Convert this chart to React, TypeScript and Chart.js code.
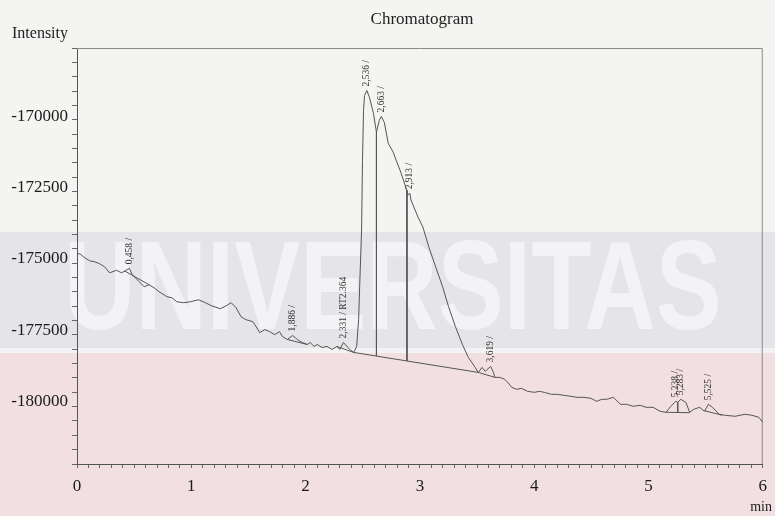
import React, { useEffect, useRef } from "react";
import { Chart, registerables } from "chart.js";

Chart.register(...registerables);

// Detector trace: retention time (min) and intensity
const traceTimes = [
  0, 0.026, 0.069, 0.112, 0.156, 0.199, 0.242, 0.285, 0.346, 0.389,
  0.424, 0.458, 0.484, 0.545, 0.588, 0.631, 0.674, 0.718, 0.761, 0.787,
  0.83, 0.873, 0.934, 0.994, 1.063, 1.124, 1.176, 1.254, 1.306, 1.349,
  1.392, 1.435, 1.478, 1.539, 1.556, 1.599, 1.643, 1.686, 1.729, 1.772,
  1.798, 1.841, 1.886, 1.928, 1.971, 2.015, 2.04, 2.075, 2.101, 2.144,
  2.187, 2.231, 2.274, 2.3, 2.331, 2.386, 2.421, 2.447, 2.464, 2.473,
  2.49, 2.498, 2.507, 2.516, 2.536, 2.559, 2.594, 2.62, 2.645, 2.663,
  2.689, 2.723, 2.767, 2.793, 2.836, 2.879, 2.896, 2.913, 2.922, 2.983,
  3.026, 3.078, 3.138, 3.199, 3.251, 3.311, 3.372, 3.424, 3.484, 3.51,
  3.545, 3.571, 3.619, 3.64, 3.657, 3.7, 3.743, 3.769, 3.804, 3.847,
  3.89, 3.942, 4.003, 4.046, 4.089, 4.15, 4.202, 4.262, 4.323, 4.375,
  4.435, 4.496, 4.547, 4.591, 4.634, 4.694, 4.755, 4.807, 4.867, 4.928,
  4.98, 5.04, 5.101, 5.153, 5.196, 5.238, 5.256, 5.283, 5.327, 5.361,
  5.396, 5.447, 5.49, 5.525, 5.56, 5.619, 5.671, 5.758, 5.844, 5.905,
  5.965, 6.0,
];
const traceValues = [
  -174825, -174825, -174965, -175070, -175105, -175175, -175280, -175490, -175400, -175490,
  -175420, -175330, -175560, -175805, -175980, -175910, -176015, -176155, -176260, -176330,
  -176365, -176505, -176540, -176505, -176435, -176540, -176645, -176750, -176645, -176540,
  -176715, -177030, -177135, -177205, -177310, -177590, -177485, -177555, -177660, -177555,
  -177730, -177830, -177690, -177830, -177935, -178005, -177935, -178075, -178005, -178110,
  -178075, -178180, -178075, -178180, -177935, -178180, -178285, -178075, -177135, -175980,
  -173985, -171540, -169790, -169265, -169090, -169335, -169895, -170560, -170140, -170000,
  -170210, -170945, -171260, -171540, -171995, -172515, -172760, -172700, -172935, -173530,
  -173880, -174580, -175280, -175980, -176680, -177380, -178005, -178460, -178810, -178985,
  -178810, -178950, -178775, -178950, -179160, -179160, -179230, -179335, -179510, -179580,
  -179545, -179650, -179685, -179650, -179685, -179755, -179755, -179790, -179825, -179860,
  -179860, -179895, -180000, -179930, -179930, -179860, -180105, -180105, -180175, -180140,
  -180210, -180210, -180350, -180385, -180175, -180000, -180035, -179930, -180035, -180385,
  -180280, -180210, -180350, -180105, -180210, -180455, -180490, -180525, -180455, -180490,
  -180560, -180735,
];

// Integrated peaks and their retention-time annotations
const peakTimes = [0.458, 1.886, 2.331, 2.536, 2.663, 2.913, 3.619, 5.238, 5.283, 5.525];
const peakLabels = [
  "0,458 /", "1,886 /", "2,331 / RT2.364", "2,536 /", "2,663 /",
  "2,913 /", "3,619 /", "5,238 /", "5,283 /", "5,525 /",
];

// Integration baselines (start/end of each segment)
const baseStartTimes = [0.415, 1.841, 2.274, 2.421, 3.51, 5.153, 5.49];
const baseStartValues = [-175420, -177830, -178075, -178285, -178985, -180385, -180330];
const baseEndTimes = [0.631, 2.015, 2.421, 3.51, 3.657, 5.361, 5.645];
const baseEndValues = [-175910, -178005, -178285, -178985, -179160, -180400, -180490];

// Perpendicular drops separating co-eluting peaks
const dropTimes = [2.62, 2.887, 5.256];
const dropTopValues = [-170560, -172590, -180035];
const dropBottomValues = [-178413, -178585, -180390];

// Axis settings
const xTickLabels = ["0", "1", "2", "3", "4", "5", "6"];
const yTickLabels = ["-170000", "-172500", "-175000", "-177500", "-180000"];
const xMin = 0;
const xMax = 6;
const xMinorStep = 0.1;
const yMin = -182200;
const yMax = -167600;
const yMinorStep = 500;

const SERIF = "'Liberation Serif', 'Times New Roman', serif";
const LINE = "#555";

function valueAt(t: number): number {
  let best = 0;
  for (let i = 1; i < traceTimes.length; i++) {
    if (Math.abs(traceTimes[i] - t) < Math.abs(traceTimes[best] - t)) best = i;
  }
  return traceValues[best];
}

const framePlugin = {
  id: "frame",
  beforeDatasetsDraw(chart: any) {
    const { ctx, chartArea } = chart;
    ctx.save();
    ctx.strokeStyle = "#8a8a8a";
    ctx.lineWidth = 1;
    ctx.beginPath();
    ctx.moveTo(chartArea.left, chartArea.top + 0.5);
    ctx.lineTo(chartArea.right - 0.5, chartArea.top + 0.5);
    ctx.lineTo(chartArea.right - 0.5, chartArea.bottom);
    ctx.stroke();
    ctx.restore();
  },
};

// Intensity labels placed through the y scale
const yLabelPlugin = {
  id: "yLabels",
  afterDraw(chart: any) {
    const { ctx, scales } = chart;
    const y = scales.y;
    ctx.save();
    ctx.fillStyle = "#1a1a1a";
    ctx.font = `17px ${SERIF}`;
    ctx.textAlign = "right";
    ctx.textBaseline = "middle";
    yTickLabels.forEach((label) => {
      const py = y.getPixelForValue(Number(label));
      ctx.fillText(label, y.right - 9, py);
    });
    ctx.restore();
  },
};

const textPlugin = {
  id: "texts",
  afterDraw(chart: any) {
    const { ctx } = chart;
    ctx.save();
    ctx.fillStyle = "#222";
    ctx.textBaseline = "alphabetic";
    ctx.font = `17px ${SERIF}`;
    ctx.textAlign = "center";
    ctx.fillText("Chromatogram", 422, 24);
    ctx.textAlign = "left";
    ctx.font = `16px ${SERIF}`;
    ctx.fillText("Intensity", 12, 38);
    ctx.textAlign = "right";
    ctx.font = `14px ${SERIF}`;
    ctx.fillText("min", 772, 511);
    ctx.restore();
  },
};

const peakLabelPlugin = {
  id: "peakLabels",
  afterDatasetsDraw(chart: any) {
    const { ctx, scales } = chart;
    ctx.save();
    ctx.font = `9.5px ${SERIF}`;
    ctx.fillStyle = "#333";
    ctx.textAlign = "left";
    ctx.textBaseline = "middle";
    peakTimes.forEach((t, i) => {
      const px = scales.x.getPixelForValue(t);
      const py = scales.y.getPixelForValue(valueAt(t));
      ctx.save();
      ctx.translate(px, py - 4);
      ctx.rotate(-Math.PI / 2);
      ctx.fillText(peakLabels[i], 0, 0);
      ctx.restore();
    });
    ctx.restore();
  },
};

export default function App() {
  const canvasRef = useRef<HTMLCanvasElement | null>(null);

  useEffect(() => {
    if (!canvasRef.current) return;

    const lineStyle = {
      borderColor: LINE,
      borderWidth: 1,
      pointRadius: 0,
      tension: 0,
      fill: false,
    };

    const datasets: any[] = [
      {
        ...lineStyle,
        label: "trace",
        data: traceTimes.map((t, i) => ({ x: t, y: traceValues[i] })),
      },
    ];
    baseStartTimes.forEach((t, i) => {
      datasets.push({
        ...lineStyle,
        label: `baseline ${i}`,
        data: [
          { x: t, y: baseStartValues[i] },
          { x: baseEndTimes[i], y: baseEndValues[i] },
        ],
      });
    });
    dropTimes.forEach((t, i) => {
      datasets.push({
        ...lineStyle,
        label: `drop ${i}`,
        data: [
          { x: t, y: dropTopValues[i] },
          { x: t, y: dropBottomValues[i] },
        ],
      });
    });

    const chart = new Chart(canvasRef.current, {
      type: "line",
      data: { datasets },
      options: {
        animation: false,
        responsive: false,
        maintainAspectRatio: false,
        layout: { padding: { top: 48, right: 4, left: 0, bottom: 0 } },
        plugins: {
          legend: { display: false },
          tooltip: { enabled: false },
          title: { display: false },
        },
        scales: {
          x: {
            type: "linear",
            min: xMin,
            max: xMax,
            border: { display: true, color: LINE, width: 1 },
            grid: {
              drawOnChartArea: false,
              drawTicks: true,
              tickLength: 4,
              color: "#666",
            },
            ticks: {
              stepSize: xMinorStep,
              autoSkip: false,
              maxRotation: 0,
              padding: 8,
              color: "#1a1a1a",
              font: { family: SERIF, size: 17 },
              callback: (value: any) => {
                const v = Number(value);
                const r = Math.round(v);
                return Math.abs(v - r) < 1e-6 ? xTickLabels[r] ?? "" : "";
              },
            },
            afterFit: (scale: any) => {
              scale.height = 52;
            },
          },
          y: {
            type: "linear",
            min: yMin,
            max: yMax,
            border: { display: true, color: LINE, width: 1 },
            grid: {
              drawOnChartArea: false,
              drawTicks: true,
              tickLength: 5,
              color: "#666",
            },
            ticks: {
              display: false,
              stepSize: yMinorStep,
              includeBounds: false,
              autoSkip: false,
            },
            afterFit: (scale: any) => {
              scale.width = 77;
            },
          },
        },
      },
      plugins: [framePlugin, peakLabelPlugin, yLabelPlugin, textPlugin],
    });

    return () => chart.destroy();
  }, []);

  return (
    <div
      style={{
        position: "absolute",
        left: 0,
        top: 0,
        width: 775,
        height: 516,
        overflow: "hidden",
        background: "#f4f4f2",
      }}
    >
      <div
        style={{
          position: "absolute",
          left: 0,
          top: 232,
          width: 775,
          height: 116,
          background: "#e5e5e9",
        }}
      />
      <div
        style={{
          position: "absolute",
          left: 0,
          top: 348,
          width: 775,
          height: 5,
          background: "#f5f2f3",
        }}
      />
      <div
        style={{
          position: "absolute",
          left: 0,
          top: 353,
          width: 775,
          height: 163,
          background: "#f1dfe2",
        }}
      />
      <div
        style={{
          position: "absolute",
          left: 64,
          top: 223,
          fontFamily: "'Liberation Sans', sans-serif",
          fontWeight: "bold",
          fontSize: 126,
          lineHeight: 1,
          color: "#f3f3f5",
          whiteSpace: "nowrap",
          transform: "scaleX(0.785)",
          transformOrigin: "left top",
        }}
      >
        UNIVERSITAS
      </div>
      <canvas
        ref={canvasRef}
        width={775}
        height={516}
        style={{ position: "absolute", left: 0, top: 0, width: 775, height: 516 }}
      />
    </div>
  );
}
